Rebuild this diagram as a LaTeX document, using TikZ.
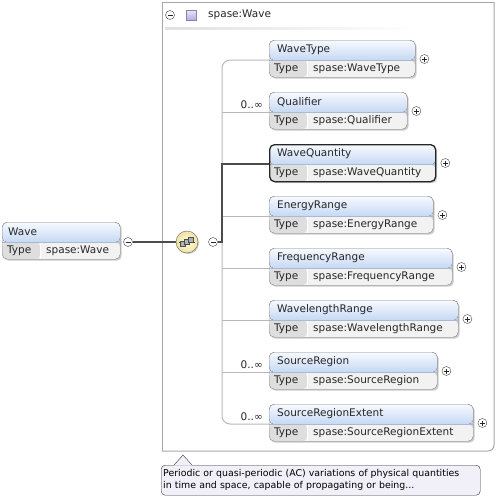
\documentclass[tikz,border=0pt]{standalone}
\usepackage{fontspec}
\setmainfont{DejaVu Sans}
\usetikzlibrary{shadows}
\definecolor{hdtop}{HTML}{F7FAFF}
\definecolor{hdbot}{HTML}{C6D8F4}
\definecolor{hdline}{HTML}{A9BAD3}
\definecolor{typecol}{HTML}{DEDEDE}
\definecolor{valcol}{HTML}{F2F2F2}
\definecolor{elborder}{HTML}{858585}
\definecolor{seqin}{HTML}{FFFCE4}
\definecolor{seqout}{HTML}{EFE3A0}
\definecolor{icotop}{HTML}{EDE6F8}
\definecolor{icobot}{HTML}{B9AADB}
\definecolor{icoedge}{HTML}{8E7FB8}
\definecolor{tipfill}{HTML}{F1EFF8}
\begin{document}
\begin{tikzpicture}[x=1pt,y=-1pt,
    every node/.style={font=\fontsize{10.5}{12.5}\selectfont, inner sep=0pt},
    elbox/.style={draw=elborder, rounded corners=5pt, anchor=north west, minimum height=37pt,
      drop shadow={shadow xshift=1.5pt, shadow yshift=-1.5pt, fill=black!40},
      path picture={
        \coordinate (ppnw) at (path picture bounding box.north west);
        \coordinate (ppse) at (path picture bounding box.south east);
        \fill[top color=hdtop, bottom color=hdbot] (ppnw) rectangle ([yshift=-20pt]ppse |- ppnw);
        \fill[valcol] ([yshift=-20pt]ppnw) rectangle (ppse);
        \fill[typecol] ([yshift=-20pt]ppnw) rectangle ([xshift=38pt]ppnw |- ppse);
        \draw[white, line width=1pt] ([xshift=38pt, yshift=-20pt]ppnw) -- ([xshift=38pt]ppnw |- ppse);
        \draw[hdline, line width=0.6pt] ([yshift=-20pt]ppnw) -- ([yshift=-20pt]ppse |- ppnw);
      }},
    selbox/.style={draw=black!85, line width=1.3pt},
    eltext/.style={anchor=west, text=black!85},
    btn/.style={circle, draw=black!75, fill=white, minimum size=9pt},
    expandbtn/.style={btn, path picture={
        \coordinate (c) at (path picture bounding box.center);
        \draw[black!85, line width=0.6pt] ([xshift=-2.5pt]c) -- ([xshift=2.5pt]c) ([yshift=-2.5pt]c) -- ([yshift=2.5pt]c);}},
    collapsebtn/.style={btn, path picture={
        \coordinate (c) at (path picture bounding box.center);
        \draw[black!85, line width=0.6pt] ([xshift=-2.5pt]c) -- ([xshift=2.5pt]c);}},
    seqbox/.style={circle, draw=black!60, inner color=seqin, outer color=seqout, minimum size=22pt,
      drop shadow={shadow xshift=1pt, shadow yshift=-1pt, fill=black!40},
      path picture={
        \coordinate (c) at (path picture bounding box.center);
        \draw[black!75, line width=0.8pt] ([xshift=-8pt]c) -- ([xshift=8pt]c);
        \filldraw[fill=black!30, draw=black!70] ([xshift=-7pt, yshift=-4pt]c) rectangle ([xshift=-2pt, yshift=1pt]c);
        \filldraw[fill=black!30, draw=black!70] ([xshift=-3pt, yshift=-2pt]c) rectangle ([xshift=2pt, yshift=3pt]c);
        \filldraw[fill=black!30, draw=black!70] ([xshift=1pt]c) rectangle ([xshift=6pt, yshift=5pt]c);}},
    typeicon/.style={draw=icoedge, top color=icotop, bottom color=icobot, minimum size=10pt},
    tree/.style={draw=black!28, line width=1pt},
    seqline/.style={draw=black!70, line width=1.6pt},
    tipbox/.style={draw=black!80, fill=tipfill, rounded corners=4pt, anchor=north west, align=left,
      font=\fontsize{9.4}{12}\selectfont, text width=315pt, minimum height=30pt, inner xsep=2pt, inner ysep=2.5pt}]
  \useasboundingbox (0,0) rectangle (497,498);

  \draw[black!35, line width=1pt] (162,451) |- (494,2);
  \draw[black!35, line width=1pt, rounded corners=6pt] (162,451) -| (494,2);
  \shade[left color=black!12, right color=white] (165,27.5) rectangle (420,29);
  \node[collapsebtn] (grpm) at (170,15) {};
  \node[typeicon] (grpi) at (191,15) {};
  \node[eltext] (grpt) at (208,15) {spase:Wave};

  \node[elbox, minimum width=118pt] (wave) at (2,222) {};
  \node[eltext] (wavet) at ([xshift=6pt, yshift=-10pt]wave.north west) {Wave};
  \node[eltext] (wavek) at ([xshift=5pt, yshift=-29pt]wave.north west) {Type};
  \node[eltext] (wavev) at ([xshift=44pt, yshift=-29pt]wave.north west) {spase:Wave};
  \node[collapsebtn] (wavem) at (128,242) {};
  \node[seqbox] (seq) at (187,242) {};
  \node[collapsebtn] (sqm) at (213,242) {};

  \foreach \t/\w/\n/\s [count=\i] in {WaveType/146/{}/{}, Qualifier/138/0..∞/{}, WaveQuantity/166/{}/selbox,
      EnergyRange/164/{}/{}, FrequencyRange/183/{}/{}, WavelengthRange/189/{}/{},
      SourceRegion/168/0..∞/{}, SourceRegionExtent/204/0..∞/{}} {
    \coordinate (b\i) at (222,{60+52*(\i-1)});
    \node[elbox, \s, minimum width=\w pt] (e\i) at (269,{40+52*(\i-1)}) {};
    \node[eltext] (e\i t) at ([xshift=8pt, yshift=-10pt]e\i.north west) {\t};
    \node[eltext] (e\i k) at ([xshift=5pt, yshift=-29pt]e\i.north west) {Type};
    \node[eltext] (e\i v) at ([xshift=44pt, yshift=-29pt]e\i.north west) {spase:\t};
    \node[expandbtn] (e\i p) at ([xshift=9pt, yshift=-19pt]e\i.north east) {};
    \node[eltext, anchor=base east] (e\i m) at ([xshift=-6pt, yshift=4pt]b\i -| e\i.west) {\n};
  }

  \draw[tree, rounded corners=8pt] (b1 -| e1.west) -- (b1) -- (b8) -- (b8 -| e8.west);
  \foreach \i in {2,...,7} \draw[tree] (b\i) -- (b\i -| e\i.west);
  \draw[seqline] (wavem) -- (seq);
  \draw[seqline] (sqm) -| (b3) -- (b3 -| e3.west);

  \node[tipbox] (tip) at (161,465) {Periodic or quasi-periodic (AC) variations of physical quantities\\in time and space, capable of propagating or being...};
  \fill[tipfill] ([xshift=13pt, yshift=-0.6pt]tip.north west) -- ([xshift=22pt, yshift=10pt]tip.north west) -- ([xshift=31pt, yshift=-0.6pt]tip.north west) -- cycle;
  \draw[black!80] ([xshift=13pt]tip.north west) -- ([xshift=22pt, yshift=10pt]tip.north west) -- ([xshift=31pt]tip.north west);
\end{tikzpicture}
\end{document}
